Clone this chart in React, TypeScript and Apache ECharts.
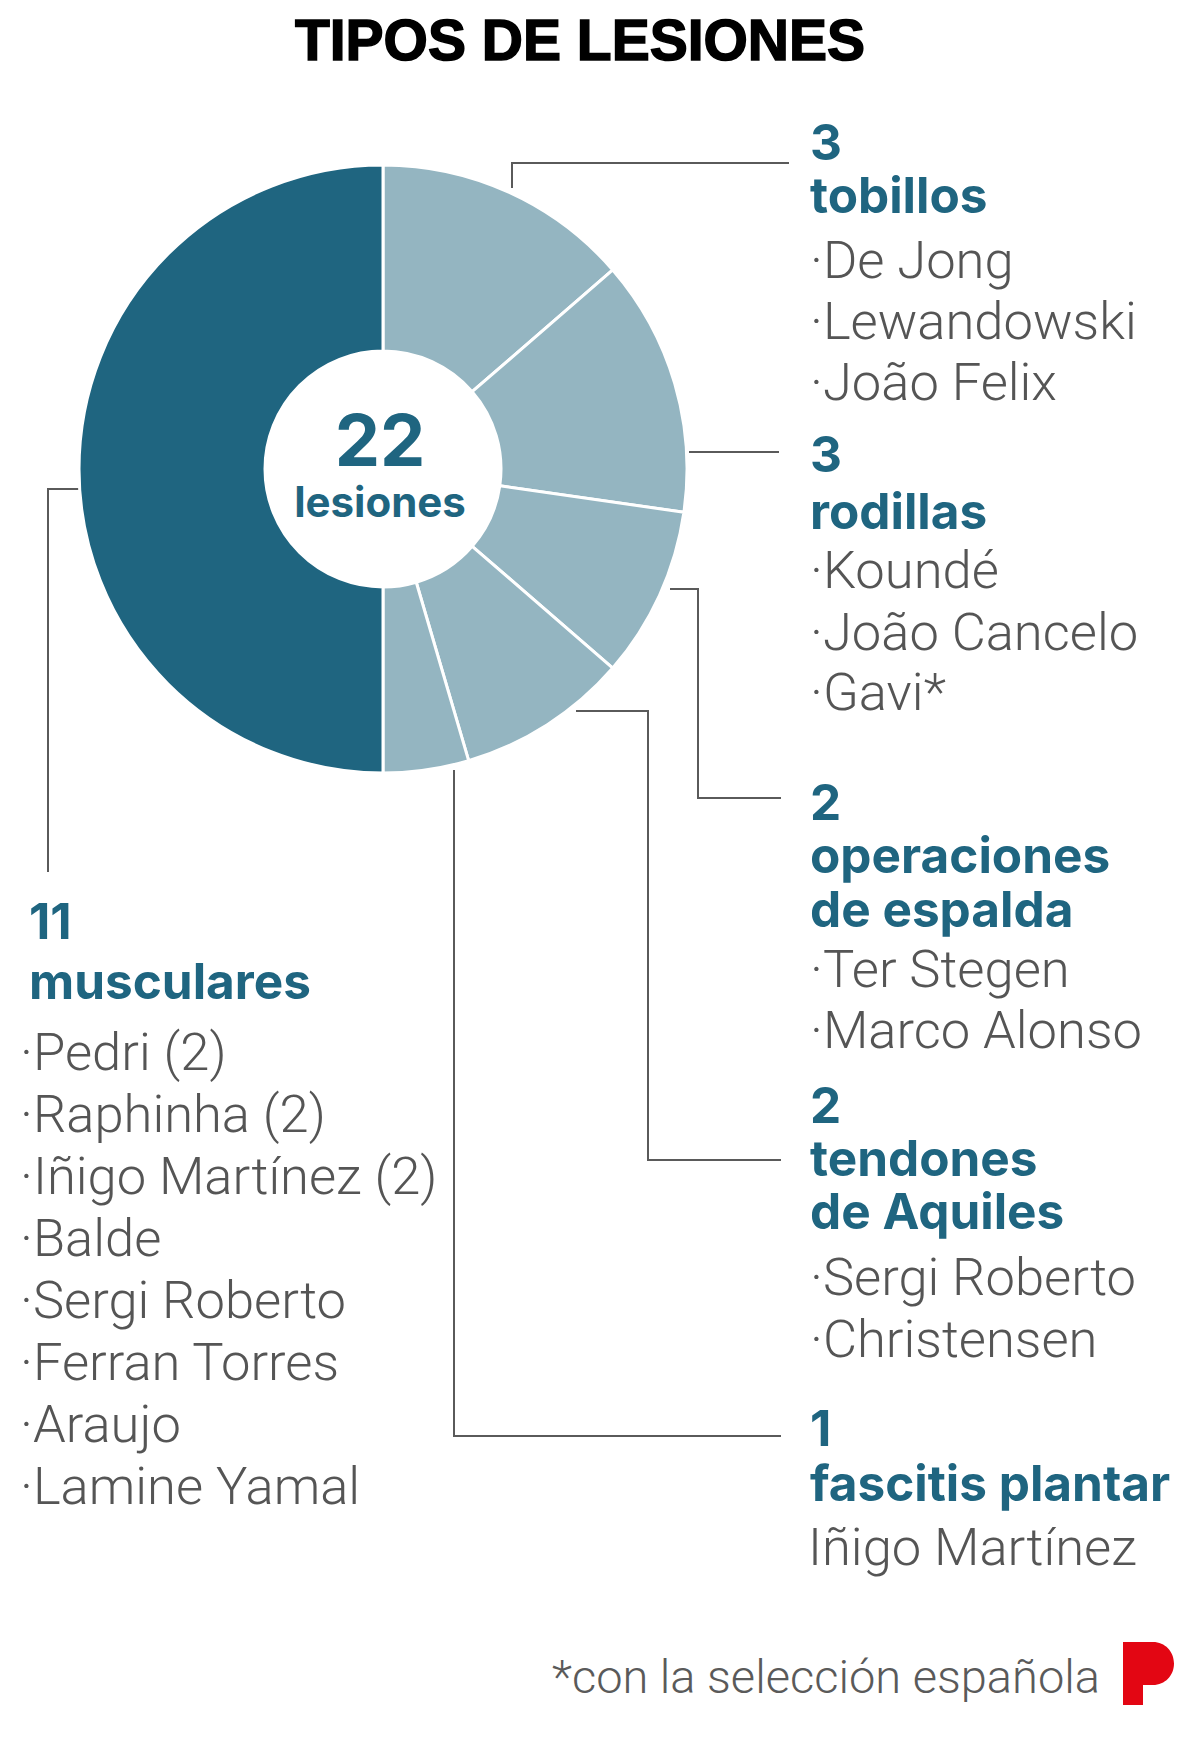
import React, { useEffect, useRef } from 'react';
import * as echarts from 'echarts';

// ---------- data ----------
const TITLE = 'TIPOS DE LESIONES';
const TOTAL_LABEL = 'lesiones';
const categories = ['tobillos', 'rodillas', 'operaciones de espalda', 'tendones de Aquiles', 'fascitis plantar', 'musculares'];
const titleLines = [['tobillos'], ['rodillas'], ['operaciones', 'de espalda'], ['tendones', 'de Aquiles'], ['fascitis plantar'], ['musculares']];
const counts = [3, 3, 2, 2, 1, 11];
const players = [
  ['De Jong', 'Lewandowski', 'João Felix'],
  ['Koundé', 'João Cancelo', 'Gavi*'],
  ['Ter Stegen', 'Marco Alonso'],
  ['Sergi Roberto', 'Christensen'],
  ['Iñigo Martínez'],
  ['Pedri (2)', 'Raphinha (2)', 'Iñigo Martínez (2)', 'Balde', 'Sergi Roberto', 'Ferran Torres', 'Araujo', 'Lamine Yamal'],
];
const bulleted = [true, true, true, true, false, true];
const FOOTNOTE = '*con la selección española';

// ---------- layout / style ----------
const DARK = '#1f6580';
const LIGHT = '#94b5c1';
const LINE = '#5a5a5a';
const NAME_COLOR = '#555555';
const CX = 383, CY = 469, R_IN = 118, R_OUT = 304;
const BOLD_SIZE = 49.5;
const NAME_SIZE = 52.5;

// per group: x of bold text, first (number) baseline, bold line step, name baselines
const groupLayout = [
  { x: 810, num: 159, step: 53, names: [278, 339, 400] },
  { x: 810, num: 471, step: 57, names: [588, 650, 710] },
  { x: 810, num: 819, step: 53.5, names: [987, 1048] },
  { x: 810, num: 1122, step: 53, names: [1295, 1357] },
  { x: 810, num: 1445, step: 55, names: [1565] },
  { x: 29, num: 938, step: 60, names: [1070, 1132, 1194, 1256, 1318, 1380, 1442, 1504] },
];
const leaders = [
  [[512, 188], [512, 163], [789, 163]],
  [[689, 452], [779, 452]],
  [[670, 589], [698, 589], [698, 798], [781, 798]],
  [[576, 711], [648, 711], [648, 1160], [781, 1160]],
  [[454, 770], [454, 1436], [781, 1436]],
  [[81, 489], [48, 489], [48, 872]],
];

const BOLD_FONT = 'Inter, "Noto Sans", sans-serif';
const NAME_FONT = 'Roboto, "Noto Sans", sans-serif';

function txt(text: string, x: number, baseline: number, size: number, o: any) {
  const align = o.align || 'left';
  return {
    type: 'text',
    x,
    y: baseline - size * 0.35,
    silent: true,
    style: {
      text,
      fontSize: size,
      fontFamily: o.family,
      fontWeight: o.weight,
      fill: o.fill,
      stroke: o.stroke,
      lineWidth: o.lineWidth || 0,
      lineHeight: size * 0.9,
      align,
      textAlign: align,
      verticalAlign: 'middle',
      textVerticalAlign: 'middle',
    },
  };
}

// multi-line block, positioned by the baseline of its first line
function block(lines: string[], x: number, firstBaseline: number, size: number, lh: number, o: any) {
  return {
    type: 'text',
    x,
    y: firstBaseline - size * 0.35 - lh / 2,
    silent: true,
    style: {
      text: lines.join('\n'),
      fontSize: size,
      fontFamily: o.family,
      fontWeight: o.weight,
      fill: o.fill,
      lineHeight: lh,
      align: 'left',
      textAlign: 'left',
      verticalAlign: 'top',
      textVerticalAlign: 'top',
    },
  };
}

export default function App() {
  const ref = useRef<HTMLDivElement>(null);
  useEffect(() => {
    document.body.style.margin = '0';
    if (!ref.current) return;
    echarts.graphic.registerShape(
      'plogo',
      echarts.graphic.extendPath('M0 0 L30 0 C42 0 51 9.5 51 21.5 C51 33.5 42 43 30 43 L20 43 L20 63 L0 63 Z', {})
    );
    const chart = echarts.init(ref.current, undefined, { renderer: 'svg' });
    const total = counts.reduce((a, b) => a + b, 0);

    const elements: any[] = [];
    elements.push(txt(TITLE, 580, 60, 57, { family: '"Liberation Sans", Arial, sans-serif', weight: 'bold', fill: '#000', stroke: '#000', lineWidth: 1.5, align: 'center' }));
    elements.push(txt(String(total), 380, 465, 72, { family: BOLD_FONT, weight: 'bold', fill: DARK, align: 'center' }));
    elements.push(txt(TOTAL_LABEL, 380, 516, 42, { family: BOLD_FONT, weight: 'bold', fill: DARK, align: 'center' }));

    leaders.forEach((pts) => {
      elements.push({ type: 'polyline', silent: true, shape: { points: pts }, style: { stroke: LINE, lineWidth: 2, fill: null } });
    });

    categories.forEach((_, i) => {
      const g = groupLayout[i];
      elements.push(block([String(counts[i]), ...titleLines[i]], g.x, g.num, BOLD_SIZE, g.step, { family: BOLD_FONT, weight: 'bold', fill: DARK }));
      players[i].forEach((p, j) => {
        const label = bulleted[i] ? '·' + p : p;
        const nx = bulleted[i] ? (g.x < 400 ? g.x - 9 : g.x) : g.x - 2;
        elements.push(txt(label, nx, g.names[j], NAME_SIZE, { family: NAME_FONT, weight: 300, fill: NAME_COLOR }));
      });
    });

    elements.push(txt(FOOTNOTE, 1100, 1693, 47, { family: NAME_FONT, weight: 300, fill: '#5a5a5a', align: 'right' }));
    elements.push({ type: 'plogo', x: 1123, y: 1642, silent: true, style: { fill: '#e30613' } });

    chart.setOption({
      animation: false,
      backgroundColor: '#fff',
      series: [
        {
          type: 'pie',
          center: [CX, CY],
          radius: [R_IN, R_OUT],
          startAngle: 90,
          clockwise: true,
          silent: true,
          label: { show: false },
          labelLine: { show: false },
          emphasis: { disabled: true },
          itemStyle: { borderColor: '#fff', borderWidth: 3 },
          data: categories.map((c, i) => ({
            name: c,
            value: counts[i],
            itemStyle: { color: c === 'musculares' ? DARK : LIGHT },
          })),
        },
      ],
      graphic: { elements },
    });
    return () => chart.dispose();
  }, []);
  return <div ref={ref} style={{ width: 1200, height: 1737 }} />;
}
